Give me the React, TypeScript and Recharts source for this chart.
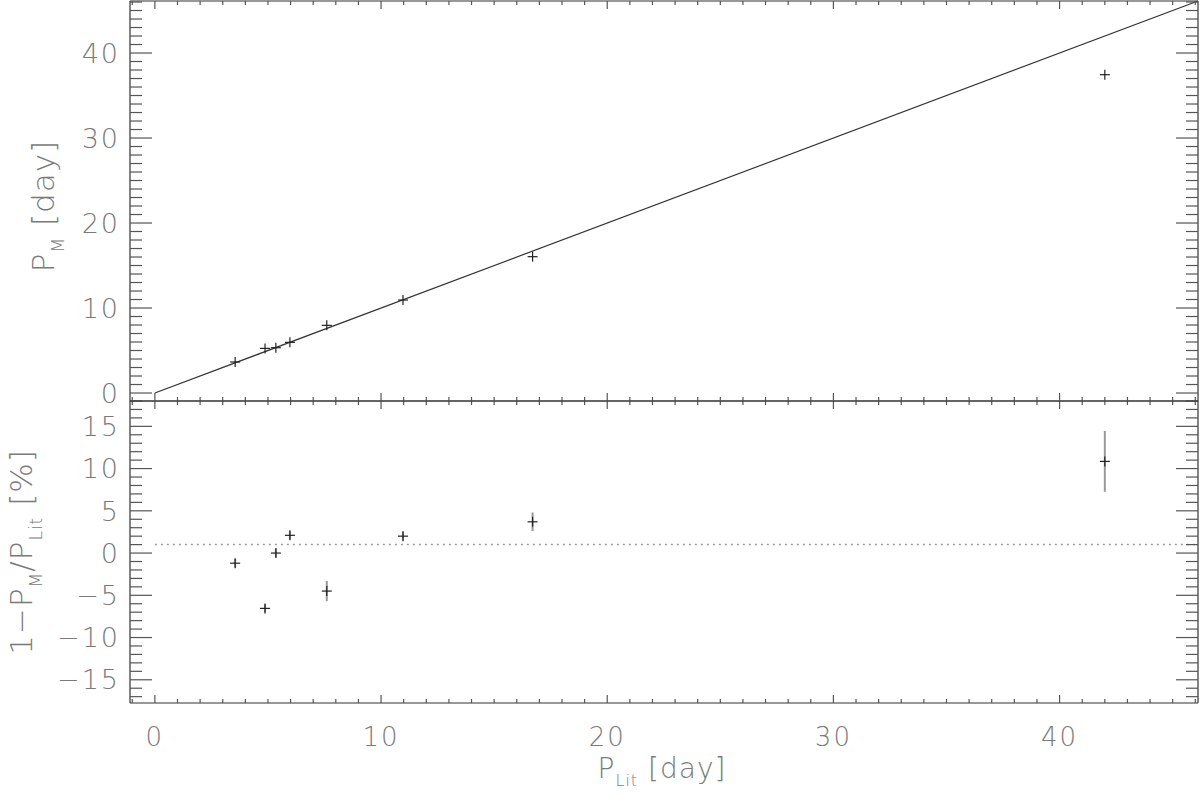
import React from "react";
import {
  ErrorBar,
  ReferenceLine,
  Scatter,
  ScatterChart,
  XAxis,
  YAxis,
} from "recharts";

// periods
const pLit = [3.55, 4.87, 5.35, 5.97, 7.6, 10.97, 16.7, 42.0];
const pM = [3.65, 5.25, 5.33, 5.96, 7.96, 10.94, 16.04, 37.45];
const resid = [-1.2, -6.55, 0.0, 2.1, -4.5, 2.0, 3.7, 10.85];
const residErr = [0.5, 0.5, 0.5, 0.5, 1.2, 0.5, 1.1, 3.6];
const meanResid = 1.0;

const xMajor = [0, 10, 20, 30, 40];
const topYMajor = [0, 10, 20, 30, 40];
const botYMajor = [-15, -10, -5, 0, 5, 10, 15];

const xDomain = [-1.1, 46.12];
const topYDomain = [-0.94, 46.12];
const botYDomain = [-17.75, 18];

const steps = (a: number, b: number) => {
  const out: number[] = [];
  for (let i = a; i <= b; i++) out.push(i);
  return out;
};
const xTicks = steps(-1, 46);
const topYTicks = steps(0, 46);
const botYTicks = steps(-17, 18);

const topData = pLit.map((x, i) => ({ x, y: pM[i] }));
const botData = pLit.map((x, i) => ({ x, y: resid[i], err: residErr[i] }));

const FONT = "'DejaVu Sans', sans-serif";
const TICK_COLOR = "#555";
const LABEL_COLOR = "#7a7a7a";
const FRAME = { stroke: "#333", strokeWidth: 1.2 };

const fmt = (v: number) => (v < 0 ? "\u2212" + Math.abs(v) : String(v));

const makeTick =
  (side: string, majors: number[], majorLen: number, minorLen: number, label: boolean) =>
  (props: any) => {
    const { x, y, payload } = props;
    const v = payload.value;
    const major = majors.includes(v);
    const L = major ? majorLen : minorLen;
    let line;
    if (side === "left") line = <line x1={x} y1={y} x2={x + L} y2={y} />;
    else if (side === "right") line = <line x1={x} y1={y} x2={x - L} y2={y} />;
    else if (side === "bottom") line = <line x1={x} y1={y} x2={x} y2={y - L} />;
    else line = <line x1={x} y1={y} x2={x} y2={y + L} />;
    return (
      <g>
        <g stroke={TICK_COLOR} strokeWidth={1.2}>{line}</g>
        {label && major && side === "left" && (
          <text
            x={x - 10}
            y={y}
            dy="0.36em"
            textAnchor="end"
            fontSize={27}
            fontFamily={FONT}
            fontWeight={200}
            letterSpacing={2}
            fill={LABEL_COLOR}
          >
            {fmt(v)}
          </text>
        )}
        {label && major && side === "bottom" && (
          <text
            x={x}
            y={y + 43}
            textAnchor="middle"
            fontSize={26}
            fontFamily={FONT}
            fontWeight={200}
            letterSpacing={2}
            fill={LABEL_COLOR}
          >
            {fmt(v)}
          </text>
        )}
      </g>
    );
  };

const Cross = (props: any) => {
  const { cx, cy } = props;
  if (cx == null || cy == null) return null;
  return (
    <g stroke="#222" strokeWidth={1.2}>
      <line x1={cx - 5} y1={cy} x2={cx + 5} y2={cy} />
      <line x1={cx} y1={cy - 5} x2={cx} y2={cy + 5} />
    </g>
  );
};

const TopYTitle = (props: any) => {
  const vb = props.viewBox;
  const cx = 54;
  const cy = vb.y + vb.height / 2 + 5;
  return (
    <text
      x={cx}
      y={cy}
      transform={`rotate(-90 ${cx} ${cy})`}
      textAnchor="middle"
      fontSize={31}
      fontFamily={FONT}
      fontWeight={200}
      letterSpacing={1}
      fill={LABEL_COLOR}
    >
      <tspan>P</tspan>
      <tspan dy={10} fontSize={17}>M</tspan>
      <tspan dy={-10}>{"  [day]"}</tspan>
    </text>
  );
};

const BotYTitle = (props: any) => {
  const vb = props.viewBox;
  const cx = 32;
  const cy = vb.y + vb.height / 2;
  return (
    <text
      x={cx}
      y={cy}
      transform={`rotate(-90 ${cx} ${cy})`}
      textAnchor="middle"
      fontSize={31}
      fontFamily={FONT}
      fontWeight={200}
      letterSpacing={1}
      fill={LABEL_COLOR}
    >
      <tspan>1{"\u2212"}P</tspan>
      <tspan dy={10} fontSize={17}>M</tspan>
      <tspan dy={-10}>/P</tspan>
      <tspan dy={10} fontSize={17}>Lit</tspan>
      <tspan dy={-10}>{"  [%]"}</tspan>
    </text>
  );
};

const XTitle = (props: any) => {
  const vb = props.viewBox;
  const cx = vb.x + vb.width / 2 - 2;
  const cy = vb.y + 75;
  return (
    <text
      x={cx}
      y={cy}
      textAnchor="middle"
      fontSize={28}
      fontFamily={FONT}
      fontWeight={200}
      letterSpacing={1}
      fill={LABEL_COLOR}
    >
      <tspan>P</tspan>
      <tspan dy={8} fontSize={16}>Lit</tspan>
      <tspan dy={-8}>{"  [day]"}</tspan>
    </text>
  );
};

const axisCommon = {
  type: "number" as const,
  allowDataOverflow: true,
  interval: 0 as const,
  tickSize: 0,
  tickMargin: 0,
  axisLine: FRAME,
  tickLine: false,
};

export default function App() {
  return (
    <div style={{ position: "absolute", left: 0, top: 0, width: 1200, height: 807, background: "#fff" }}>
      {/* lower panel: relative residuals */}
      <div style={{ position: "absolute", left: 0, top: 400 }}>
        <ScatterChart
          width={1200}
          height={407}
          margin={{ top: 0, right: 0, bottom: 0, left: 0 }}
        >
          <XAxis
            {...axisCommon}
            xAxisId="b"
            dataKey="x"
            orientation="bottom"
            height={104}
            domain={xDomain}
            ticks={xTicks}
            tick={makeTick("bottom", xMajor, 8, 4, true)}
            label={{ content: XTitle }}
          />
          <XAxis
            {...axisCommon}
            xAxisId="t"
            dataKey="x"
            orientation="top"
            height={1}
            domain={xDomain}
            ticks={xTicks}
            tick={makeTick("top", xMajor, 8, 4, false)}
          />
          <YAxis
            {...axisCommon}
            yAxisId="l"
            dataKey="y"
            orientation="left"
            width={130}
            domain={botYDomain}
            ticks={botYTicks}
            tick={makeTick("left", botYMajor, 22, 12, true)}
            label={{ content: BotYTitle }}
          />
          <YAxis
            {...axisCommon}
            yAxisId="r"
            dataKey="y"
            orientation="right"
            width={2}
            domain={botYDomain}
            ticks={botYTicks}
            tick={makeTick("right", botYMajor, 22, 12, false)}
          />
          <ReferenceLine
            xAxisId="b"
            yAxisId="l"
            segment={[
              { x: 0, y: meanResid },
              { x: 46.12, y: meanResid },
            ]}
            stroke="#999"
            strokeWidth={1.5}
            strokeDasharray="2 4"
            ifOverflow="visible"
          />
          <Scatter
            xAxisId="b"
            yAxisId="l"
            data={botData}
            dataKey="y"
            shape={Cross}
            isAnimationActive={false}
          >
            <ErrorBar dataKey="err" direction="y" width={0} stroke="#999" strokeWidth={2} />
          </Scatter>
        </ScatterChart>
      </div>

      {/* upper panel: P_M against P_Lit (taller svg so the "0" label is not clipped) */}
      <div style={{ position: "absolute", left: 0, top: 0 }}>
        <ScatterChart
          width={1200}
          height={412}
          margin={{ top: 0, right: 0, bottom: 10, left: 0 }}
        >
          <XAxis
            {...axisCommon}
            xAxisId="b"
            dataKey="x"
            orientation="bottom"
            height={1}
            domain={xDomain}
            ticks={xTicks}
            tick={makeTick("bottom", xMajor, 8, 4, false)}
          />
          <XAxis
            {...axisCommon}
            xAxisId="t"
            dataKey="x"
            orientation="top"
            height={1}
            domain={xDomain}
            ticks={xTicks}
            tick={makeTick("top", xMajor, 8, 4, false)}
          />
          <YAxis
            {...axisCommon}
            yAxisId="l"
            dataKey="y"
            orientation="left"
            width={130}
            domain={topYDomain}
            ticks={topYTicks}
            tick={makeTick("left", topYMajor, 22, 12, true)}
            label={{ content: TopYTitle }}
          />
          <YAxis
            {...axisCommon}
            yAxisId="r"
            dataKey="y"
            orientation="right"
            width={2}
            domain={topYDomain}
            ticks={topYTicks}
            tick={makeTick("right", topYMajor, 22, 12, false)}
          />
          <ReferenceLine
            xAxisId="b"
            yAxisId="l"
            segment={[
              { x: 0, y: 0 },
              { x: 46.12, y: 46.12 },
            ]}
            stroke="#333"
            strokeWidth={1.2}
            ifOverflow="visible"
          />
          <Scatter
            xAxisId="b"
            yAxisId="l"
            data={topData}
            dataKey="y"
            shape={Cross}
            isAnimationActive={false}
          />
        </ScatterChart>
      </div>
    </div>
  );
}
